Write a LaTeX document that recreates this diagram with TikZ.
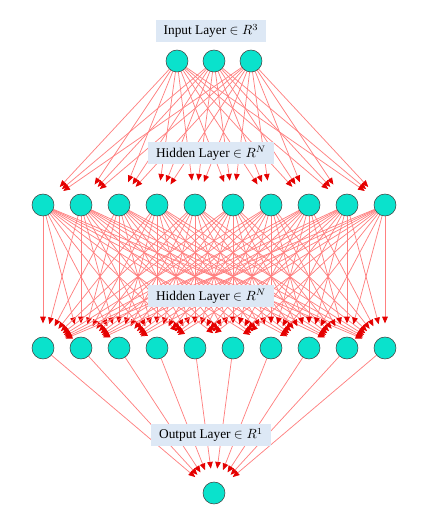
\documentclass[tikz,border=0pt]{standalone}
\usepackage{fontspec}
\setmainfont{Liberation Serif}
\usetikzlibrary{arrows.meta,backgrounds}
\definecolor{turquesa}{RGB}{10,226,204}
\definecolor{caja}{RGB}{221,232,245}
\begin{document}
\begin{tikzpicture}[x=0.75pt,y=0.75pt,
    neurona/.style={circle, draw=black!75, fill=turquesa, minimum size=16.5pt, inner sep=0pt},
    conexion/.style={red!50, line width=0.55pt, shorten >=10pt,
        -{Triangle[length=5pt,width=4.2pt,color=red!90!black]}},
    etiqueta/.style={fill=caja, inner xsep=6pt, inner ysep=3pt, minimum height=16.5pt}]
    \useasboundingbox (0,0) rectangle (436,511);

    % Capas de neuronas
    \foreach \i/\x in {1/177,2/214,3/251}
        \node[neurona] (in\i) at (\x,450) {};
    \foreach \i in {1,...,10} {
        \node[neurona] (ha\i) at ({43+38*(\i-1)},306) {};
        \node[neurona] (hb\i) at ({43+38*(\i-1)},163) {};
    }
    \node[neurona] (out) at (214,18) {};

    % Conexiones
    \begin{scope}[on background layer]
        \foreach \i in {1,2,3}
            \foreach \j in {1,...,10}
                \draw[conexion] (in\i) -- (ha\j);
        \foreach \i in {1,...,10}
            \foreach \j in {1,...,10}
                \draw[conexion] (ha\i) -- (hb\j);
        \foreach \i in {1,...,10}
            \draw[conexion] (hb\i) -- (out);
    \end{scope}

    % Etiquetas
    \node[etiqueta] (lin) at (211,480) {Input Layer $\in R^3$};
    \node[etiqueta] (lha) at (211,358) {Hidden Layer $\in R^N$};
    \node[etiqueta] (lhb) at (211,215) {Hidden Layer $\in R^N$};
    \node[etiqueta] (lout) at (211,76) {Output Layer $\in R^1$};
\end{tikzpicture}
\end{document}
